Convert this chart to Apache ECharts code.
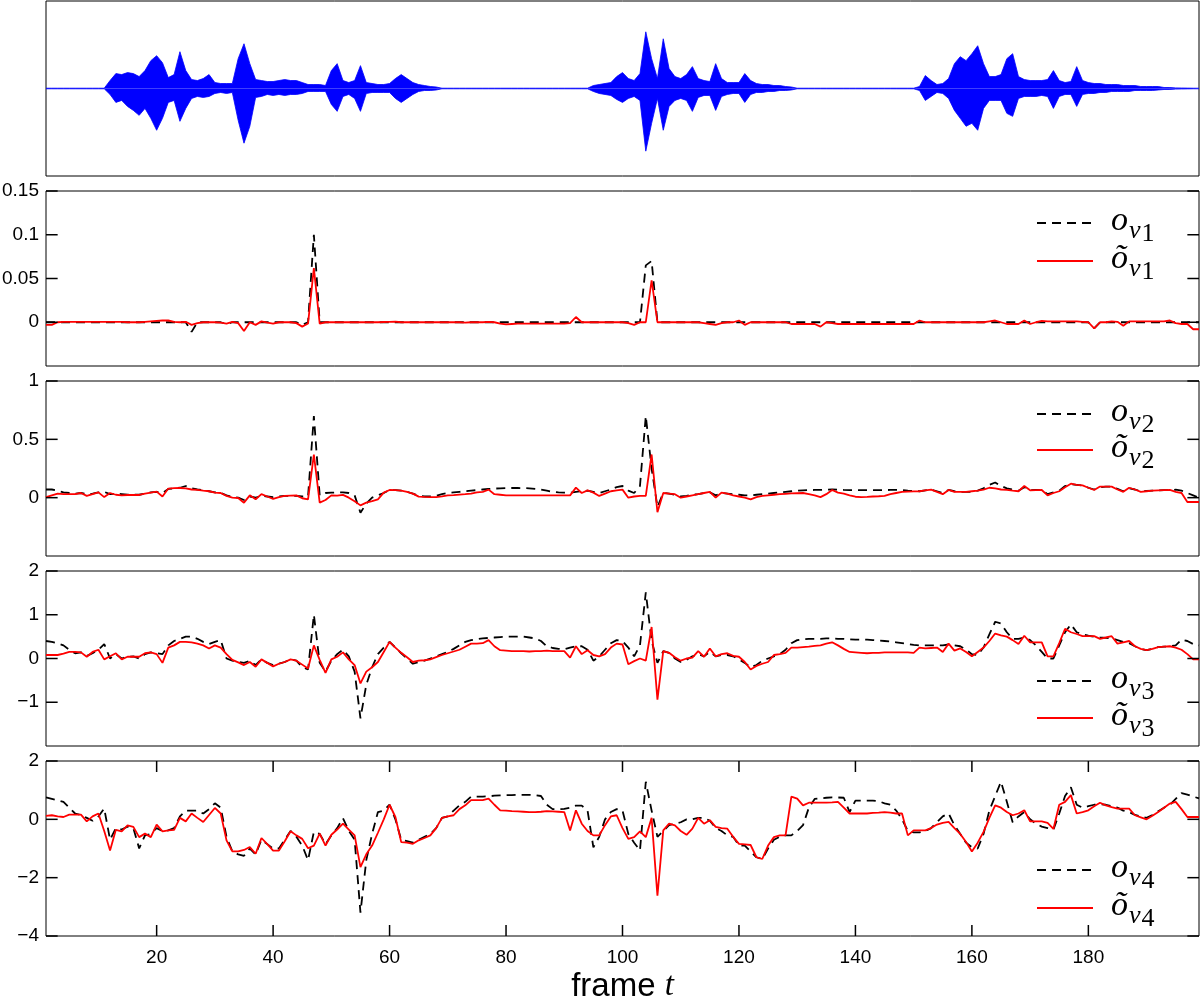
<!DOCTYPE html>
<html><head><meta charset="utf-8">
<script src="https://cdn.jsdelivr.net/npm/echarts@6/dist/echarts.min.js"></script>
<style>html,body{margin:0;padding:0;background:#fff}#c{width:1200px;height:1007px}</style>
</head><body><div id="c"></div>
<script>
// frame index (category axis)
const frames = Array.from({length: 199}, (_, i) => String(i + 1));
const xTickLabels = [20, 40, 60, 80, 100, 120, 140, 160, 180];

// top panel: speech waveform envelope, arbitrary amplitude units, one value per frame
const waveHi = [0.3,0.3,0.3,0.3,0.3,0.3,0.3,0.3,0.3,0.3,
 0.3,8,15,14,16,15,12,18,28,33,
 26,11,14,37,18,9,8,10,14,6,
 5,5,5,30,45,25,9,8,7,7,
 8,9,8,8,6,4,4,4,3,18,
 25,8,6,8,23,6,5,4,4,5,
 10,14,10,6,4,3,2,1.5,0.3,0.3,
 0.3,0.3,0.3,0.3,0.3,0.3,0.3,0.3,0.3,0.3,
 0.3,0.3,0.3,0.3,0.3,0.3,0.3,0.3,0.3,0.3,
 0.3,0.3,0.3,0.3,3,4,5,6,12,16,
 10,8,15,57,30,10,50,20,12,10,
 14,22,10,8,7,25,10,6,6,6,
 15,8,5,4,4,3,3,2,1.5,0.3,
 0.3,0.3,0.3,0.3,0.3,0.3,0.3,0.3,0.3,0.3,
 0.3,0.3,0.3,0.3,0.3,0.3,0.3,0.3,0.3,0.3,
 2,13,8,4,5,10,25,32,28,35,
 43,25,12,12,14,30,35,12,9,8,
 8,8,9,18,8,6,7,22,8,6,
 5,5,4,4,4,3,3,3,2,2,
 2,2,1,1,0.6,0.5,0.4,0.3,0.3];
const waveLo = [-0.3,-0.3,-0.3,-0.3,-0.3,-0.3,-0.3,-0.3,-0.3,-0.3,
 -0.3,-6,-14,-12,-18,-22,-27,-20,-30,-42,
 -30,-14,-12,-33,-20,-10,-8,-9,-8,-5,
 -4,-5,-4,-32,-55,-38,-9,-8,-6,-7,
 -6,-7,-6,-6,-5,-3,-3,-3,-3,-16,
 -23,-8,-6,-10,-23,-5,-4,-4,-4,-4,
 -10,-14,-10,-6,-3,-2,-2,-1.5,-0.3,-0.3,
 -0.3,-0.3,-0.3,-0.3,-0.3,-0.3,-0.3,-0.3,-0.3,-0.3,
 -0.3,-0.3,-0.3,-0.3,-0.3,-0.3,-0.3,-0.3,-0.3,-0.3,
 -0.3,-0.3,-0.3,-0.3,-3,-5,-6,-7,-11,-14,
 -10,-8,-12,-63,-35,-10,-42,-18,-12,-10,
 -12,-23,-9,-7,-7,-22,-8,-6,-5,-5,
 -14,-6,-4,-4,-3,-3,-2,-2,-1.5,-0.3,
 -0.3,-0.3,-0.3,-0.3,-0.3,-0.3,-0.3,-0.3,-0.3,-0.3,
 -0.3,-0.3,-0.3,-0.3,-0.3,-0.3,-0.3,-0.3,-0.3,-0.3,
 -2,-12,-8,-4,-5,-10,-22,-30,-38,-35,
 -42,-20,-12,-12,-12,-25,-28,-10,-8,-8,
 -8,-7,-8,-20,-8,-6,-6,-18,-6,-5,
 -5,-4,-4,-3,-3,-3,-3,-2,-2,-2,
 -2,-1.5,-1,-1,-0.6,-0.5,-0.4,-0.3,-0.3];

// o_v1 (dashed) and õ_v1 (red)
const oV1 = [0,0,0,0,0,0,0,0,0,0,
 0,0,0,0,0,0,0,0,0,0,
 0,0,0,0,0,-0.011,0,0,0,0,
 0,-0.002,0,0,0,0,0,0,0,0,
 0,0,0,0,-0.003,0,0.1,0,0,0,
 0,0,0,0,0,0,0,0,0,0,
 0,0,0,0,0,0,0,0,0,0,
 0,0,0,0,0,0,0,0,0,0,
 0,0,0,0,0,0,0,0,0,0,
 0,0,0,0,0,0,0,0,0,0,
 0,0,0,0.065,0.07,0,0,0,0,0,
 0,0,0,0,0,0,0,0,0,0,
 0,0,0,0,0,0,0,0,0,0,
 0,0,0,0,0,0,0,0,0,0,
 0,0,0,0,0,0,0,0,0,0,
 0,0,0,0,0,0,0,0,0,0,
 0,0,0,0,0,0,0,0,0,0,
 0,0,0,0,0,0,0,0,0,0,
 -0.007,0,0,0,0,0,0,0,0,0,
 0,0,0,0,0,0,0,0,0];
const rV1 = [-0.003,-0.003,0,0.0005,0.0005,0.0005,0.0005,0.0005,0.0005,0.0005,
 0.0005,0.0005,0.0005,0.0005,0,0,0,0.0005,0.001,0.0015,
 0.002,0.002,0.0005,0,0.0005,-0.003,-0.001,0,0,0,
 -0.0005,-0.0015,0.0005,-0.001,-0.01,0,-0.003,0.001,-0.0005,-0.0015,
 0,0,0,-0.001,-0.005,-0.0015,0.062,-0.0015,0,0,
 0,0,0,0,0,0,0,0,0.0003,0.0005,
 0.0008,0,0,0,0,0,0,0,0,0,
 0,0,-0.0005,0,0,0,0.0005,0,-0.0015,-0.0025,
 -0.002,-0.0015,-0.0015,-0.0015,-0.0015,-0.0015,-0.0015,-0.0015,-0.0015,-0.0015,
 -0.001,0.006,0,0,0,0,0,0,0,0,
 -0.001,-0.003,0,0,0.048,0,0,0,0,0,
 0,0,0,-0.001,-0.002,-0.003,-0.001,0,0,0.002,
 -0.003,0,0,0,0,0,0,0,-0.002,-0.002,
 -0.002,-0.002,-0.002,-0.005,0,-0.001,-0.002,-0.002,-0.002,-0.002,
 -0.002,-0.002,-0.002,-0.002,-0.002,-0.002,-0.002,-0.002,-0.002,-0.002,
 0.002,0,0,0,0,0,0,0,0,0,
 0,0,0.001,0.002,0,-0.002,-0.002,-0.002,0.002,-0.002,
 0,0.0015,0.001,0.001,0.001,0.001,0.001,0.001,0.0005,0,
 -0.007,0,0,0.001,0.0005,-0.004,0.001,0.001,0.001,0.001,
 0.001,0.001,0.001,0.002,-0.001,-0.002,-0.002,-0.008,-0.008];

// o_v2 / õ_v2
const oV2 = [0.07,0.07,0.06,0.045,0.04,0.035,0.04,0.03,0.035,0.045,
 0.05,0.03,0.035,0.03,0.025,0.025,0.025,0.035,0.045,0.05,
 0.04,0.075,0.08,0.085,0.1,0.08,0.07,0.065,0.055,0.045,
 0.04,0.02,0.005,0,-0.02,0.01,0,0.015,0.01,0.005,
 0.01,0.015,0.015,0.015,0.01,0.01,0.7,0.02,0.04,0.043,
 0.045,0.045,0.04,0.02,-0.13,-0.05,0,0.02,0.04,0.066,
 0.065,0.06,0.05,0.035,0.015,0.01,0.01,0.015,0.03,0.04,
 0.045,0.05,0.055,0.06,0.065,0.07,0.075,0.078,0.08,0.082,
 0.083,0.083,0.082,0.08,0.075,0.07,0.06,0.05,0.045,0.043,
 0.043,0.05,0.055,0.06,0.05,0.04,0.055,0.07,0.09,0.1,
 0.06,0.04,0.1,0.7,0.25,-0.08,0.04,0.035,0.025,0.01,
 0.015,0.025,0.03,0.04,0.045,0.02,0.04,0.035,0.03,0.025,
 0.02,0.02,0.025,0.03,0.035,0.04,0.045,0.05,0.055,0.06,
 0.063,0.065,0.066,0.066,0.068,0.07,0.068,0.066,0.065,0.065,
 0.065,0.065,0.065,0.065,0.065,0.066,0.066,0.066,0.06,0.058,
 0.055,0.062,0.069,0.055,0.04,0.066,0.055,0.05,0.05,0.05,
 0.06,0.08,0.11,0.13,0.1,0.08,0.07,0.06,0.09,0.065,
 0.066,0.066,0.03,0.045,0.06,0.1,0.115,0.11,0.105,0.085,
 0.07,0.09,0.095,0.095,0.075,0.055,0.08,0.07,0.055,0.058,
 0.06,0.062,0.064,0.066,0.068,0.06,0.04,0.02,0];
const rV2 = [0.005,0.02,0.035,0.03,0.03,0.03,0.04,0.015,0.03,0.045,
 0.005,0.04,0.025,0.02,0.023,0.023,0.023,0.035,0.044,0.052,
 0.01,0.078,0.082,0.083,0.08,0.07,0.066,0.06,0.055,0.043,
 0.04,0.015,0,-0.003,-0.043,0.02,-0.014,0.03,0.01,-0.01,
 0.005,0.015,0.018,0.02,-0.005,-0.015,0.37,-0.043,-0.02,0.02,
 0.018,0.024,0,-0.03,-0.066,-0.043,-0.03,-0.014,0.043,0.066,
 0.064,0.06,0.05,0.035,0.009,0.006,0.005,0.005,0.012,0.02,
 0.022,0.026,0.03,0.035,0.045,0.05,0.069,0.03,0.025,0.02,
 0.02,0.02,0.02,0.02,0.02,0.02,0.02,0.02,0.02,0.02,
 0.02,0.086,0.04,0.063,0.043,0.015,0.035,0.055,0.062,0.069,
 0,0.01,0.015,0.015,0.37,-0.125,0.04,0.035,0.03,0,
 0.01,0.02,0.03,0.04,0.05,0,0.043,0.035,0.02,0.01,
 0,-0.014,0.005,0.015,0.02,0.025,0.03,0.033,0.036,0.038,
 0.04,0.03,0.02,0.005,0.03,0.066,0.043,0.035,0.02,0.008,
 0.005,0.007,0.01,0.012,0.015,0.03,0.04,0.05,0.052,0.054,
 0.055,0.062,0.069,0.05,0.03,0.066,0.05,0.05,0.05,0.055,
 0.06,0.069,0.085,0.08,0.07,0.066,0.06,0.055,0.1,0.063,
 0.065,0.066,0.02,0.04,0.055,0.09,0.12,0.11,0.105,0.085,
 0.066,0.095,0.095,0.095,0.07,0.05,0.085,0.07,0.05,0.055,
 0.06,0.062,0.064,0.066,0.05,0.04,-0.037,-0.037,-0.037];

// o_v3 / õ_v3
const oV3 = [0.4,0.38,0.35,0.3,0.2,0.12,0.14,0.06,0.12,0.2,
 0.33,0,0.1,0,0.04,0.05,0,0.1,0.14,0.12,
 0.1,0.3,0.4,0.45,0.5,0.5,0.45,0.38,0.33,0.38,
 0.42,0,-0.05,-0.08,-0.1,-0.05,-0.15,-0.02,-0.1,-0.15,
 -0.12,-0.08,-0.02,-0.05,-0.2,-0.25,1.0,-0.1,-0.3,-0.05,
 0.1,0.2,0.05,-0.3,-1.37,-0.6,-0.2,0.1,0.25,0.38,
 0.25,0.12,0,-0.12,-0.08,-0.05,0,0.05,0.1,0.15,
 0.22,0.3,0.38,0.42,0.44,0.46,0.47,0.48,0.49,0.5,
 0.5,0.5,0.5,0.48,0.46,0.4,0.28,0.24,0.22,0.21,
 0.25,0.28,0.28,0.2,-0.05,0.05,0.2,0.35,0.42,0.4,
 0.25,0.05,0.3,1.51,0.4,-0.1,0.17,0.13,0,-0.08,
 -0.03,0.05,0.1,0.05,0.15,0.05,0.08,0.08,0.05,-0.02,
 -0.1,-0.2,-0.15,-0.05,0,0.05,0.1,0.2,0.35,0.42,
 0.44,0.45,0.45,0.45,0.46,0.46,0.45,0.45,0.44,0.43,
 0.43,0.43,0.42,0.41,0.4,0.39,0.37,0.35,0.33,0.31,
 0.3,0.3,0.3,0.3,0.3,0.32,0.3,0.28,0.2,0.1,
 0.08,0.25,0.55,0.84,0.8,0.6,0.45,0.45,0.48,0.42,
 0.3,0.15,0,0,0.3,0.6,0.78,0.6,0.55,0.52,
 0.5,0.48,0.47,0.46,0.42,0.38,0.35,0.28,0.22,0.19,
 0.22,0.26,0.27,0.28,0.3,0.43,0.4,0.33,0.3];
const rV3 = [0.08,0.08,0.08,0.11,0.15,0.15,0.14,0.04,0.15,0.2,
 -0.02,0.05,0.12,-0.02,0.04,0.04,0.04,0.12,0.14,0.1,
 -0.1,0.25,0.3,0.38,0.38,0.37,0.34,0.3,0.23,0.3,
 0.25,0.1,-0.03,-0.09,-0.15,-0.08,-0.19,-0.02,-0.1,-0.18,
 -0.12,-0.08,-0.02,-0.05,-0.14,-0.23,0.3,-0.03,-0.33,-0.02,
 0.04,0.14,-0.02,-0.15,-0.57,-0.3,-0.2,-0.08,0.15,0.38,
 0.25,0.13,0.03,-0.08,-0.05,-0.04,-0.02,0.03,0.08,0.12,
 0.16,0.2,0.27,0.34,0.34,0.35,0.42,0.28,0.19,0.18,
 0.17,0.17,0.17,0.16,0.17,0.17,0.18,0.17,0.17,0.17,
 0.02,0.28,0.1,0.19,0.08,0.05,0.1,0.25,0.34,0.32,
 -0.13,-0.06,0,-0.05,0.72,-0.94,0.17,0.13,0.03,-0.05,
 0,0.02,0.17,0.04,0.23,0.05,0.1,0.12,0.06,0.04,
 -0.08,-0.25,-0.17,-0.12,-0.08,0.08,0.1,0.13,0.25,0.25,
 0.26,0.27,0.29,0.3,0.34,0.37,0.3,0.22,0.15,0.14,
 0.13,0.12,0.13,0.13,0.14,0.14,0.14,0.14,0.14,0.13,
 0.25,0.23,0.24,0.25,0.15,0.34,0.18,0.23,0.15,0.05,
 0.15,0.25,0.4,0.57,0.53,0.5,0.42,0.33,0.52,0.37,
 0.37,0.37,0.05,0.05,0.35,0.68,0.6,0.56,0.51,0.51,
 0.51,0.45,0.48,0.51,0.34,0.37,0.4,0.28,0.22,0.19,
 0.22,0.26,0.27,0.28,0.25,0.2,0.1,-0.02,-0.02];

// o_v4 / õ_v4
const oV4 = [0.75,0.7,0.65,0.6,0.4,0.2,0.15,0.05,-0.05,0.1,
 0.37,-0.7,-0.3,-0.35,-0.25,-0.3,-1.0,-0.55,-0.5,-0.3,
 -0.4,-0.38,-0.3,0.1,0.3,0.3,0.3,0.2,0.35,0.55,
 0.4,-0.6,-1.1,-1.2,-1.25,-1.0,-1.2,-0.7,-0.85,-1.0,
 -1.0,-0.7,-0.4,-0.6,-0.9,-1.4,-0.43,-0.5,-0.85,-0.55,
 -0.3,0.04,-0.4,-0.7,-3.2,-1.4,-0.5,0.25,0.3,0.5,
 0,-0.7,-0.75,-0.8,-0.7,-0.6,-0.5,-0.3,0.05,0.1,
 0.3,0.48,0.6,0.78,0.78,0.78,0.79,0.81,0.82,0.83,
 0.83,0.84,0.84,0.84,0.83,0.8,0.5,0.35,0.35,0.36,
 0.4,0.47,0.47,0.3,-0.96,-0.6,0,0.25,0.35,0.3,
 -0.5,-0.8,-1.07,1.29,0.3,-0.6,-0.4,-0.2,-0.15,-0.1,
 0,0,0.05,0.05,-0.05,-0.3,-0.4,-0.55,-0.6,-0.9,
 -0.9,-1.1,-1.3,-1.36,-1.0,-0.7,-0.6,-0.55,-0.55,-0.4,
 -0.2,0.4,0.7,0.72,0.74,0.75,0.75,0.74,0.25,0.64,
 0.64,0.64,0.64,0.62,0.55,0.5,0.3,0,-0.4,-0.45,
 -0.45,-0.4,-0.3,-0.1,0.1,0.2,-0.2,-0.5,-0.8,-0.96,
 -1.0,-0.5,0.3,0.8,1.29,0.6,-0.1,0.1,0.25,0,
 -0.15,-0.25,-0.3,-0.35,0.2,0.8,1.1,0.5,0.4,0.45,
 0.5,0.52,0.5,0.45,0.4,0.3,0.25,0.15,0.1,0.05,
 0.15,0.28,0.4,0.5,0.7,0.9,0.85,0.78,0.72];
const rV4 = [0.12,0.14,0.1,0.08,0.16,0.16,0.16,-0.07,0.1,0.2,
 -0.4,-1.07,-0.36,-0.41,-0.21,-0.26,-0.61,-0.49,-0.61,-0.18,
 -0.41,-0.38,-0.36,0.05,-0.07,0.2,0.05,-0.09,0.15,0.39,
 0.2,-0.72,-1.1,-1.1,-1.05,-0.95,-1.18,-0.64,-0.85,-1.07,
 -1.07,-0.75,-0.41,-0.55,-0.67,-0.99,-0.9,-0.49,-0.9,-0.53,
 -0.35,-0.15,-0.35,-0.55,-1.64,-1.2,-0.9,-0.46,0,0.5,
 0.08,-0.78,-0.8,-0.84,-0.72,-0.64,-0.55,-0.3,0.05,0.1,
 0.14,0.35,0.48,0.66,0.66,0.66,0.71,0.5,0.31,0.3,
 0.28,0.27,0.26,0.25,0.25,0.26,0.28,0.27,0.26,0.25,
 -0.38,0.31,-0.15,-0.4,-0.55,-0.55,-0.2,0.1,0.14,-0.3,
 -0.67,-0.61,-0.41,-0.61,0.05,-2.62,-0.38,-0.15,-0.21,-0.4,
 -0.53,-0.32,0.05,-0.15,-0.03,-0.26,-0.3,-0.32,-0.6,-0.84,
 -0.86,-0.88,-1.3,-1.36,-0.9,-0.61,-0.55,-0.55,0.78,0.71,
 0.48,0.57,0.57,0.57,0.57,0.58,0.6,0.4,0.2,0.2,
 0.2,0.2,0.22,0.23,0.25,0.23,0.2,0.2,-0.55,-0.38,
 -0.38,-0.38,-0.3,-0.18,-0.12,-0.09,-0.3,-0.5,-0.78,-1.1,
 -0.8,-0.43,0.05,0.48,0.4,0.25,0.14,0.2,0.31,-0.07,
 -0.07,-0.07,-0.12,-0.33,0.5,0.6,0.83,0.2,0.25,0.31,
 0.45,0.57,0.48,0.42,0.37,0.37,0.37,0.14,0.07,0,
 0.12,0.25,0.4,0.54,0.6,0.35,0.08,0.08,0.08];

// y tick labels per panel
const yLabelsV1 = [0, 0.05, 0.1, 0.15];
const yLabelsV2 = [0, 0.5, 1];
const yLabelsV3 = [-1, 0, 1, 2];
const yLabelsV4 = [-4, -2, 0, 2];

const panels = [
  {o: oV1, r: rV1, idx: '1', min: -0.05, max: 0.15, interval: 0.05, labels: yLabelsV1, legTop: [204, 242]},
  {o: oV2, r: rV2, idx: '2', min: -0.5, max: 1, interval: 0.5, labels: yLabelsV2, legTop: [395, 431]},
  {o: oV3, r: rV3, idx: '3', min: -2, max: 2, interval: 1, labels: yLabelsV3, legTop: [662, 699]},
  {o: oV4, r: rV4, idx: '4', min: -4, max: 2, interval: 2, labels: yLabelsV4, legTop: [851, 889]}
];

const gridTops = [1, 191, 381, 571, 761];
const GH = 175;
const TICK_PX = 11;
const FONT = 'Liberation Sans';

const grid = gridTops.map(t => ({left: 46, right: 1, top: t, height: GH, show: true,
  borderColor: '#000', borderWidth: 1, backgroundColor: 'transparent', containLabel: false, outerBoundsMode: 'none'}));

const isTick = (val) => xTickLabels.indexOf(Number(val)) >= 0;
const xAxis = [];
for (let g = 0; g < 5; g++) {
  const showIt = g === 4;
  xAxis.push({
    type: 'category', gridIndex: g, data: frames, boundaryGap: false,
    show: showIt, position: 'bottom',
    axisLine: {show: false, onZero: false},
    axisTick: {show: false},
    axisLabel: {show: showIt, interval: (i, v) => isTick(v), margin: 12, fontSize: 19, color: '#000', fontFamily: FONT},
    splitLine: {show: false},
    name: showIt ? '{a|frame }{b|t}' : '',
    nameLocation: 'middle', nameGap: 34,
    nameTextStyle: {rich: {
      a: {fontSize: 33, fontFamily: FONT, color: '#000'},
      b: {fontSize: 33, fontFamily: 'Liberation Serif', fontStyle: 'italic', color: '#000'}
    }}
  });
}

const fmtLabel = (list) => (v) => {
  const hit = list.some(t => Math.abs(t - v) < 1e-9);
  if (!hit) return '';
  const n = +Number(v).toFixed(6);
  return n < 0 ? '\u2212' + String(Math.abs(n)) : String(n);
};

const yAxis = [{type: 'value', gridIndex: 0, min: -88, max: 88, show: false, splitLine: {show: false}}];
panels.forEach((p, k) => {
  const g = k + 1;
  yAxis.push({type: 'value', gridIndex: g, position: 'left', min: p.min, max: p.max, interval: p.interval,
    axisLine: {show: false}, splitLine: {show: false}, axisTick: {show: false},
    axisLabel: {show: true, margin: 7, fontSize: 19, color: '#000', fontFamily: FONT, formatter: fmtLabel(p.labels)}});
});

const series = [
  {name: 'wave+', type: 'line', xAxisIndex: 0, yAxisIndex: 0, data: waveHi, symbol: 'none', showSymbol: false,
   lineStyle: {color: '#0000ff', width: 0.8}, areaStyle: {color: '#0000ff', opacity: 1}, silent: true},
  {name: 'wave-', type: 'line', xAxisIndex: 0, yAxisIndex: 0, data: waveLo, symbol: 'none', showSymbol: false,
   lineStyle: {color: '#0000ff', width: 0.8}, areaStyle: {color: '#0000ff', opacity: 1}, silent: true}
];

// inward tick marks, drawn as short line segments through the axes' own scales
const tickSeries = (xi, yi, pts) => ({type: 'line', xAxisIndex: xi, yAxisIndex: yi, data: pts,
  symbol: 'none', showSymbol: false, silent: true, clip: false, z: 6, animation: false,
  lineStyle: {color: '#000', width: 1.5}, tooltip: {show: false}});
const last = frames.length - 1;
const framesPerTick = Math.round(TICK_PX / (1153 / last)); // about 2 frames ≈ 11 px
panels.forEach((p, k) => {
  const g = k + 1;
  p.labels.forEach(v => {
    series.push(tickSeries(g, g, [[0, v], [framesPerTick, v]]));
    series.push(tickSeries(g, g, [[last - framesPerTick, v], [last, v]]));
  });
});
{
  const p4 = panels[3];
  const dv = (p4.max - p4.min) * TICK_PX / GH;
  xTickLabels.forEach(t => {
    const xi = t - 1;
    series.push(tickSeries(4, 4, [[xi, p4.min], [xi, p4.min + dv]]));
    series.push(tickSeries(4, 4, [[xi, p4.max - dv], [xi, p4.max]]));
  });
}

const legend = [];
const legRich = {
  o: {fontFamily: 'Liberation Serif', fontStyle: 'italic', fontSize: 34, color: '#000', verticalAlign: 'top', padding: [5, 0, 0, 13]},
  v: {fontFamily: 'Liberation Serif', fontStyle: 'italic', fontSize: 26, color: '#000', verticalAlign: 'top', padding: [19, 0, 0, 1]},
  n: {fontFamily: 'Liberation Serif', fontSize: 26, color: '#000', verticalAlign: 'top', padding: [22, 0, 0, 1]}
};
panels.forEach((p, k) => {
  const g = k + 1;
  const nameO = 'o_v' + p.idx, nameR = '\u00f5_v' + p.idx;
  series.push({name: nameO, type: 'line', xAxisIndex: g, yAxisIndex: g, data: p.o, symbol: 'none', showSymbol: false,
    lineStyle: {color: '#000', width: 1.8, type: [9, 6]}, itemStyle: {color: '#000'}, z: 2});
  series.push({name: nameR, type: 'line', xAxisIndex: g, yAxisIndex: g, data: p.r, symbol: 'none', showSymbol: false,
    lineStyle: {color: '#ff0000', width: 1.8}, itemStyle: {color: '#ff0000'}, z: 3});
  [nameO, nameR].forEach((nm, j) => {
    legend.push({data: [nm], left: 1036, top: p.legTop[j], orient: 'vertical', padding: 0,
      itemWidth: 56, itemHeight: 14, selectedMode: false,
      itemStyle: {opacity: 0, borderWidth: 0},
      formatter: (name) => '{o|' + name[0] + '}{v|v}{n|' + name.slice(-1) + '}',
      textStyle: {rich: legRich}});
  });
});

const chart = echarts.init(document.getElementById('c'), null, {renderer: 'canvas'});
chart.setOption({animation: false, backgroundColor: '#fff', textStyle: {fontFamily: FONT},
  grid, xAxis, yAxis, series, legend});
</script>
</body></html>
